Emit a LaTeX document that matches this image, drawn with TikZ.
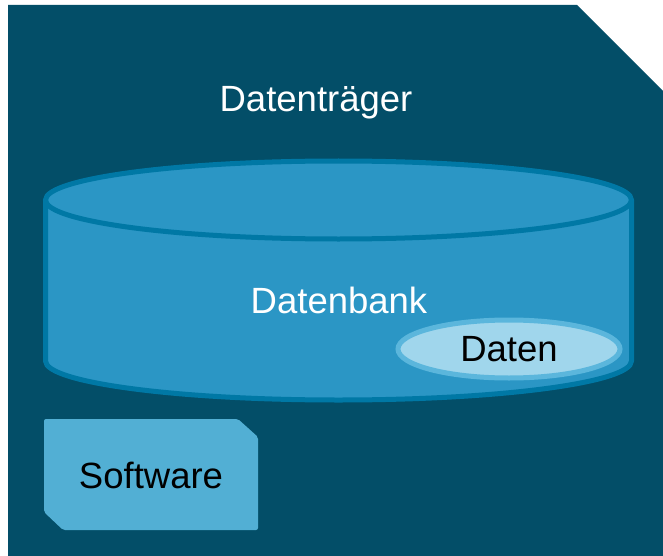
\documentclass[tikz,border=0pt]{standalone}
\usepackage{fontspec}
\setmainfont{Liberation Sans}
\usetikzlibrary{shapes.geometric}
\definecolor{diskbg}{HTML}{034E68}
\definecolor{dbfill}{HTML}{2B96C5}
\definecolor{dbline}{HTML}{0078A5}
\definecolor{datring}{HTML}{5BB6DC}
\definecolor{datfill}{HTML}{A0D6EC}
\definecolor{swfill}{HTML}{52AFD4}
\tikzset{
every node/.style={font=\fontsize{36.5}{40}\selectfont, inner sep=0pt},
db/.style={fill=dbfill, draw=dbline, line width=5pt},
}

\begin{document}
\begin{tikzpicture}[x=1pt, y=1pt]
    \useasboundingbox (0,0) rectangle (663,-556);
    \fill[diskbg] (8,-5) -- (577,-5) -- (663,-91) -- (663,-556) -- (8,-556) -- cycle;
    \node[text=white, anchor=base] (traeger) at (316,-112) {Datenträger};
    \draw[db] (45.5,-200) -- (45.5,-361)
        arc[start angle=180, end angle=360, x radius=293, y radius=39] -- (631.5,-200);
    \draw[db] (338.5,-200) ellipse[x radius=293, y radius=39];
    \node[text=white, anchor=base] (bank) at (339,-313) {Datenbank};
    \node[ellipse, fill=datfill, draw=datring, line width=5pt,
        minimum width=222, minimum height=58] (daten) at (509,-349) {Daten};
    \fill[swfill, rounded corners=2pt] (44,-419) -- (238,-419) -- (258,-437)
        -- (258,-530) -- (63,-530) -- (44,-512) -- cycle;
    \node (software) at (151,-475) {Software};
\end{tikzpicture}
\end{document}
